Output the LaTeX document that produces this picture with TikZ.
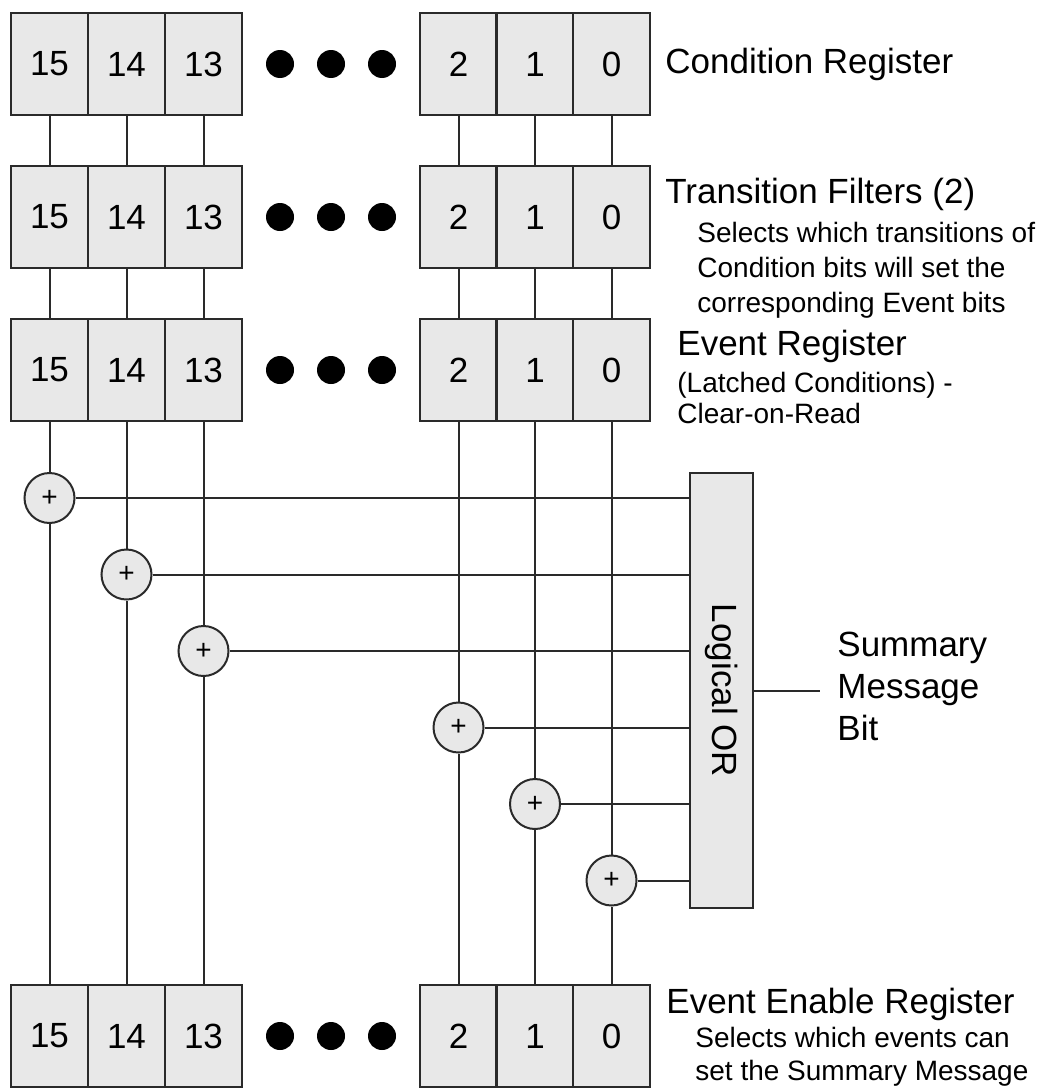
\documentclass[tikz,border=0pt]{standalone}
\usepackage{fontspec}
\setmainfont{Liberation Sans}
\usetikzlibrary{positioning}
\definecolor{cellgray}{HTML}{E8E8E8}
\definecolor{linegray}{HTML}{2A2A2A}

\begin{document}
\begin{tikzpicture}[
  x=0.5pt, y=-0.5pt,
  cell/.style={rectangle, draw=linegray, fill=cellgray, line width=1.4pt, minimum width=38.5pt, minimum height=51pt, inner sep=0pt, font=\fontsize{17.5}{21}\selectfont},
  adder/.style={circle, draw=linegray, fill=cellgray, line width=1pt, minimum size=25pt, inner sep=0pt, font=\fontsize{14}{16}\selectfont},
  orbox/.style={rectangle, draw=linegray, fill=cellgray, line width=1.4pt, minimum width=31.5pt, minimum height=217.5pt, inner sep=0pt},
  bigdot/.style={circle, fill=black, minimum size=14pt, inner sep=0pt},
  wire/.style={draw=linegray, line width=1pt},
  title/.style={anchor=base west, inner sep=0pt, font=\fontsize{17.5}{21}\selectfont},
  note/.style={anchor=base west, inner sep=0pt, align=left, font=\fontsize{14}{17.5}\selectfont}
]
  \useasboundingbox (0,0) rectangle (1045,1092);

  % register rows: condition, transition, event, enable
  \foreach \r/\y in {c/64, t/217, e/370, n/1036} {
    \foreach \b/\x in {15/49.5, 14/126.5, 13/203.5, 2/458.5, 1/535, 0/611.5}
      \node[cell] (\r\b) at (\x,\y) {\b};
    \foreach \x in {280, 331, 382}
      \node[bigdot] (\r dot\x) at (\x,\y) {};
  }

  % adders and the OR box
  \foreach \b/\x/\y in {15/49.5/498, 14/126.5/574.5, 13/203.5/651, 2/458.5/727.5, 1/535/804, 0/611.5/880.5}
    \node[adder] (a\b) at (\x,\y) {+};
  \node[orbox] (or) at (721.5,690.5) {};
  \node[rotate=-90, inner sep=0pt, font=\fontsize{17.5}{21}\selectfont] (orlabel) at (or.center) {Logical OR};
  \coordinate (sumend) at (820,690.5);

  \foreach \b in {15,14,13,2,1,0} {
    \draw[wire] (c\b.south) -- (t\b.north);
    \draw[wire] (t\b.south) -- (e\b.north);
    \draw[wire] (e\b.south) -- (a\b.north);
    \draw[wire] (a\b.south) -- (n\b.north);
    \draw[wire] (a\b.east) -- (a\b.east -| or.west);
  }
  \draw[wire] (or.east |- sumend) -- (sumend);

  % labels (multi-line notes sit on their last baseline)
  \node[title] (condlbl) at (665,73) {Condition Register};
  \node[title] (translbl) at (665,203) {Transition Filters (2)};
  \node[note] (transnote) at (697,312) {Selects which transitions of\\Condition bits will set the\\corresponding Event bits};
  \node[title] (eventlbl) at (677,355) {Event Register};
  \node[note, font=\fontsize{14}{15.5}\selectfont] (eventnote) at (677,423) {(Latched Conditions) -\\Clear-on-Read};
  \node[title] (enablelbl) at (666,1013) {Event Enable Register};
  \node[note, font=\fontsize{14}{16.5}\selectfont] (enablenote) at (695,1080) {Selects which events can\\set the Summary Message};
  \node[anchor=west, inner sep=0pt, align=left, font=\fontsize{17.5}{21}\selectfont] (sumlbl) at (837,686) {Summary\\Message\\Bit};
\end{tikzpicture}
\end{document}
